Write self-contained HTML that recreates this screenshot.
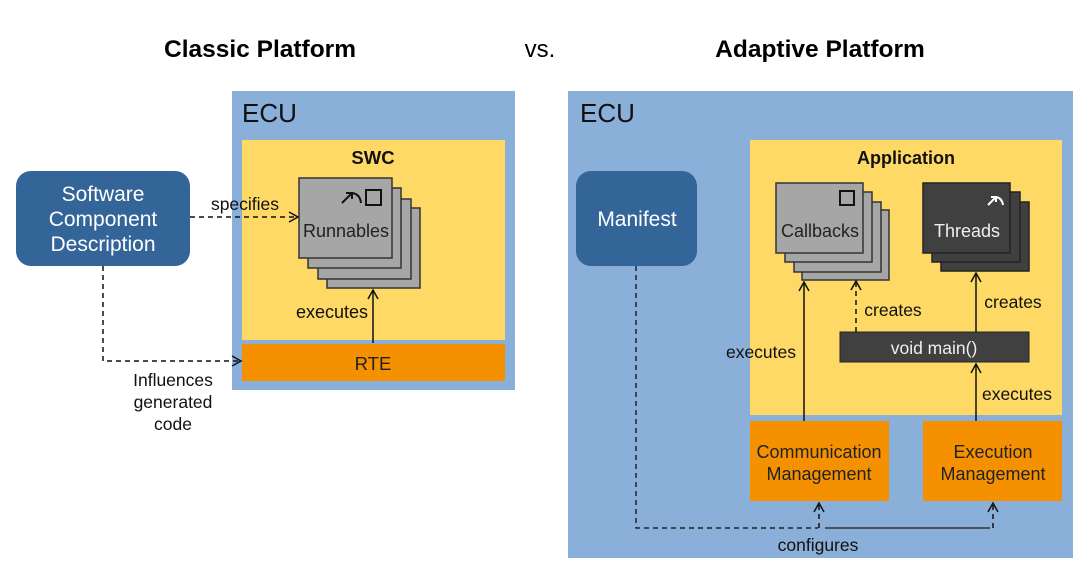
<!DOCTYPE html>
<html><head><meta charset="utf-8"><style>
html,body{margin:0;padding:0;background:#fff;}
svg{display:block;font-family:"Liberation Sans",Arial,sans-serif;}
</style></head><body>
<svg width="1080" height="567" viewBox="0 0 1080 567" xmlns="http://www.w3.org/2000/svg">
<defs>
<marker id="ar" markerWidth="12" markerHeight="12" refX="10" refY="6" orient="auto" markerUnits="userSpaceOnUse">
<path d="M1,1 L10,6 L1,11" fill="none" stroke="#111" stroke-width="1.5"/>
</marker>
</defs>
<text x="260" y="57" font-size="24.5" font-weight="bold" text-anchor="middle" fill="#000">Classic Platform</text>
<text x="540" y="57" font-size="24" text-anchor="middle" fill="#000">vs.</text>
<text x="820" y="57" font-size="24.5" font-weight="bold" text-anchor="middle" fill="#000">Adaptive Platform</text>

<!-- Left ECU -->
<rect x="232" y="91" width="283" height="299" fill="#8aafd9"/>
<text x="242" y="122" font-size="26" fill="#111">ECU</text>
<rect x="242" y="140" width="263" height="200" fill="#fed966"/>
<text x="373" y="164" font-size="18.5" font-weight="bold" text-anchor="middle" fill="#111">SWC</text>
<rect x="242" y="344" width="263" height="37" fill="#f59100"/>
<text x="373" y="370" font-size="18.5" text-anchor="middle" fill="#222">RTE</text>
<g fill="#a6a6a6" stroke="#333" stroke-width="1.5">
<rect x="327" y="208" width="93" height="80"/>
<rect x="318" y="199" width="93" height="80"/>
<rect x="308" y="188" width="93" height="80"/>
<rect x="299" y="178" width="93" height="80"/>
</g>
<rect x="366" y="190" width="15" height="15" fill="none" stroke="#111" stroke-width="2"/>
<path d="M342,203 L352,193 M346,193 L352,193 L352,199 M352,193 Q360,194 361,203" fill="none" stroke="#111" stroke-width="2"/>
<text x="346" y="237" font-size="18" text-anchor="middle" fill="#222">Runnables</text>
<line x1="373" y1="343" x2="373" y2="290" stroke="#111" stroke-width="1.5" marker-end="url(#ar)"/>
<text x="332" y="318" font-size="18" text-anchor="middle" fill="#111">executes</text>

<rect x="16" y="171" width="174" height="95" rx="15" fill="#346598"/>
<text x="103" y="201" font-size="21" text-anchor="middle" fill="#fff">Software</text>
<text x="103" y="226" font-size="21" text-anchor="middle" fill="#fff">Component</text>
<text x="103" y="251" font-size="21" text-anchor="middle" fill="#fff">Description</text>
<line x1="190" y1="217" x2="298" y2="217" stroke="#111" stroke-width="1.5" stroke-dasharray="5,4" marker-end="url(#ar)"/>
<text x="245" y="210" font-size="17.5" text-anchor="middle" fill="#111">specifies</text>
<path d="M103,266 L103,361 L241,361" fill="none" stroke="#111" stroke-width="1.5" stroke-dasharray="5,4" marker-end="url(#ar)"/>
<text x="173" y="386" font-size="17.5" text-anchor="middle" fill="#111">Influences</text>
<text x="173" y="408" font-size="17.5" text-anchor="middle" fill="#111">generated</text>
<text x="173" y="430" font-size="17.5" text-anchor="middle" fill="#111">code</text>

<!-- Right ECU -->
<rect x="568" y="91" width="505" height="467" fill="#8aafd9"/>
<text x="580" y="122" font-size="26" fill="#111">ECU</text>
<rect x="750" y="140" width="312" height="275" fill="#fed966"/>
<text x="906" y="164" font-size="18" font-weight="bold" text-anchor="middle" fill="#111">Application</text>
<rect x="576" y="171" width="121" height="95" rx="15" fill="#346598"/>
<text x="637" y="226" font-size="21" text-anchor="middle" fill="#fff">Manifest</text>

<g fill="#a6a6a6" stroke="#333" stroke-width="1.5">
<rect x="802" y="210" width="87" height="70"/>
<rect x="794" y="202" width="87" height="70"/>
<rect x="785" y="192" width="87" height="70"/>
<rect x="776" y="183" width="87" height="70"/>
</g>
<rect x="840" y="191" width="14" height="14" fill="none" stroke="#111" stroke-width="2"/>
<text x="820" y="237" font-size="18" text-anchor="middle" fill="#222">Callbacks</text>

<g fill="#404040" stroke="#222" stroke-width="1.5">
<rect x="941" y="202" width="88" height="69"/>
<rect x="932" y="192" width="88" height="70"/>
<rect x="923" y="183" width="87" height="70"/>
</g>
<path d="M988,205 L996,197 M991,197 L996,197 L996,202 M996,197 Q1002,198 1003,205" fill="none" stroke="#fff" stroke-width="2"/>
<text x="967" y="237" font-size="18" text-anchor="middle" fill="#eee">Threads</text>

<rect x="840" y="332" width="189" height="30" fill="#404040" stroke="#222"/>
<text x="934" y="354" font-size="17.5" text-anchor="middle" fill="#eee">void main()</text>

<rect x="750" y="421" width="139" height="80" fill="#f59100"/>
<text x="819" y="458" font-size="18" text-anchor="middle" fill="#222">Communication</text>
<text x="819" y="480" font-size="18" text-anchor="middle" fill="#222">Management</text>
<rect x="923" y="421" width="139" height="80" fill="#f59100"/>
<text x="993" y="458" font-size="18" text-anchor="middle" fill="#222">Execution</text>
<text x="993" y="480" font-size="18" text-anchor="middle" fill="#222">Management</text>

<line x1="804" y1="421" x2="804" y2="282" stroke="#111" stroke-width="1.5" marker-end="url(#ar)"/>
<text x="761" y="358" font-size="17.5" text-anchor="middle" fill="#111">executes</text>
<line x1="856" y1="332" x2="856" y2="281" stroke="#111" stroke-width="1.5" stroke-dasharray="5,4" marker-end="url(#ar)"/>
<text x="893" y="316" font-size="17.5" text-anchor="middle" fill="#111">creates</text>
<line x1="976" y1="332" x2="976" y2="273" stroke="#111" stroke-width="1.5" marker-end="url(#ar)"/>
<text x="1013" y="308" font-size="17.5" text-anchor="middle" fill="#111">creates</text>
<line x1="976" y1="421" x2="976" y2="364" stroke="#111" stroke-width="1.5" marker-end="url(#ar)"/>
<text x="1017" y="400" font-size="17.5" text-anchor="middle" fill="#111">executes</text>

<path d="M636,266 L636,528 L818,528" fill="none" stroke="#222" stroke-width="1.5" stroke-dasharray="5,4"/>
<line x1="825" y1="528" x2="990" y2="528" stroke="#333" stroke-width="1.5"/>
<line x1="819" y1="528" x2="819" y2="503" stroke="#111" stroke-width="1.5" stroke-dasharray="5,4" marker-end="url(#ar)"/>
<line x1="993" y1="528" x2="993" y2="503" stroke="#111" stroke-width="1.5" stroke-dasharray="5,4" marker-end="url(#ar)"/>
<text x="818" y="551" font-size="17.5" text-anchor="middle" fill="#111">configures</text>
</svg>
</body></html>
